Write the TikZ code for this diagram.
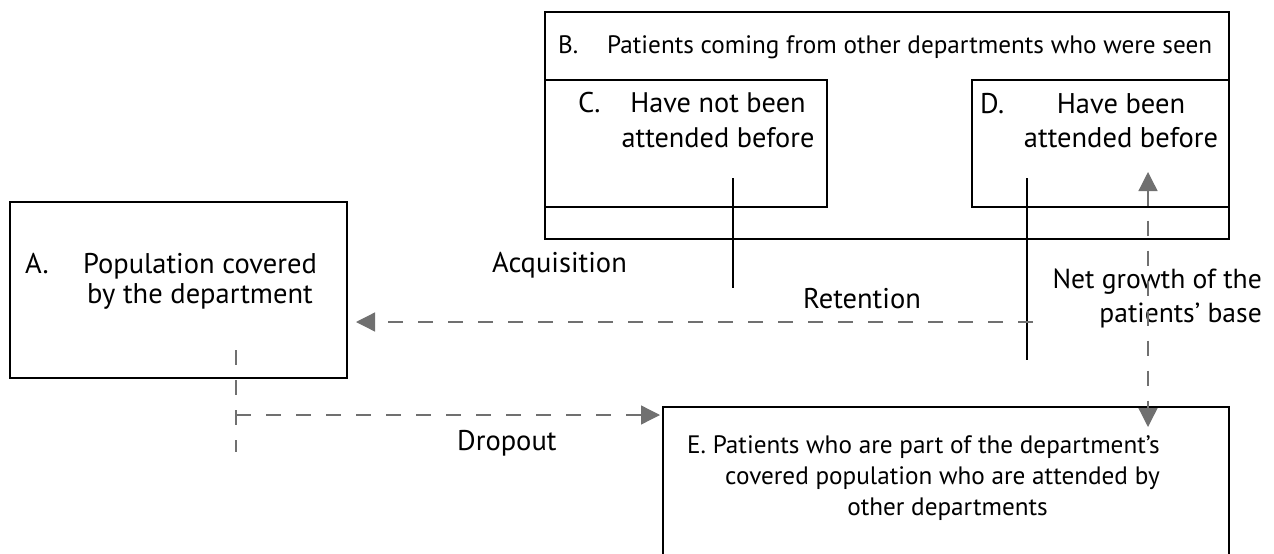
\documentclass[tikz,border=0pt]{standalone}
\usepackage{fontspec}
\setmainfont{PT Sans}
\usetikzlibrary{positioning, arrows.meta}
\definecolor{flowgray}{RGB}{112,112,112}

\begin{document}
\begin{tikzpicture}[x=1pt, y=-1pt, font=\fontsize{28.5}{30}\selectfont]
    \tikzstyle{box}=[draw, line width=1.5pt, rectangle, anchor=north west, inner sep=0pt, outer sep=0pt]
    \tikzstyle{lbl}=[anchor=base west, inner sep=0pt]
    \tikzstyle{txt}=[anchor=base, align=center, inner sep=0pt]
    \tikzstyle{small}=[font=\fontsize{25.2}{31}\selectfont]
    \tikzstyle{flow}=[draw=flowgray, line width=1.3pt, dash pattern=on 15pt off 15pt]
    \tikzstyle{tip}=[-{Triangle[length=19pt, width=19pt]}]
    \useasboundingbox (0,0) rectangle (1274,554);

    % boxes
    \node[box, minimum width=337pt, minimum height=176pt] (A) at (10,202) {};
    \node[box, minimum width=684pt, minimum height=227pt] (B) at (545,12) {};
    \node[box, minimum width=282pt, minimum height=127pt] (C) at (545,80) {};
    \node[box, minimum width=257pt, minimum height=127pt] (D) at (972,80) {};
    \node[box, minimum width=566pt, minimum height=160pt] (E) at (663,407) {};

    % texts (base = last line)
    \node[lbl] (Aa) at (25,273) {A.};
    \node[txt] (At) at (200,303) {Population covered\\by the department};
    \node[lbl, small] (Ba) at (558,53) {B.};
    \node[lbl, small] (Bt) at (607,53) {Patients coming from other departments who were seen};
    \node[lbl] (Ca) at (578,112) {C.};
    \node[txt, font=\fontsize{28.3}{35}\selectfont] (Ct) at (718,147) {Have not been\\attended before};
    \node[lbl] (Da) at (980,113) {D.};
    \node[txt, font=\fontsize{28.5}{34}\selectfont] (Dt) at (1121,147) {Have been\\attended before};
    \node[txt, small, anchor=base east, align=right] (Et) at (1160,515) {E. Patients who are part of the department’s\\covered population who are attended by\\other departments\hspace*{112pt}};

    \node[lbl] (acq) at (492,272) {Acquisition};
    \node[lbl] (ret) at (803,308) {Retention};
    \node[lbl] (drop) at (457,450) {Dropout};
    \node[txt, anchor=base east, align=right, font=\fontsize{27.6}{34}\selectfont] (net) at (1262,322) {Net growth of the\\patients’ base};

    % solid stems
    \coordinate (c1) at (733,178);
    \coordinate (c2) at (733,288);
    \coordinate (d1) at (1027,178);
    \coordinate (d2) at (1027,360);
    \draw[line width=1.5pt] (c1) -- (c2);
    \draw[line width=1.5pt] (d1) -- (d2);

    % dashed flows
    \coordinate (r1) at (1033,322);
    \coordinate (r2) at ([xshift=9pt]A.east |- r1);
    \draw[flow, tip, flowgray] (r1) -- (r2);
    \coordinate (p1) at (236,350);
    \coordinate (p2) at (236,452);
    \coordinate (p3) at (236,415);
    \draw[flow] (p1) -- (p2);
    \draw[flow, tip, flowgray] (p3) -- ([xshift=-3pt]E.west |- p3);
    \coordinate (n1) at (1148,172);
    \coordinate (n2) at (1148,427);
    \draw[flow, {Triangle[length=19pt, width=19pt]}-{Triangle[length=19pt, width=19pt]}, flowgray] (n1) -- (n2);
\end{tikzpicture}
\end{document}
